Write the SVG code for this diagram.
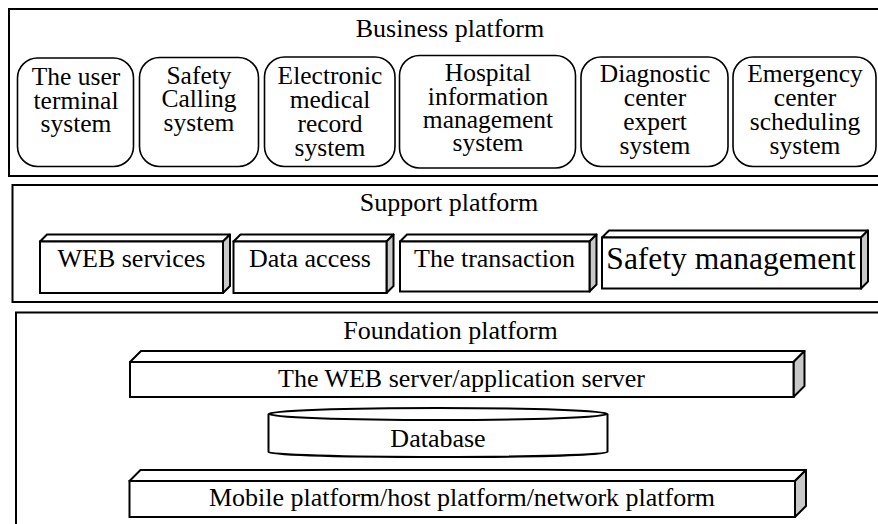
<svg xmlns="http://www.w3.org/2000/svg" width="878" height="524" viewBox="0 0 878 524">
<style>
  text { font-family: "Liberation Serif", "Times New Roman", serif; fill: #000; text-anchor: middle; }
  .t { font-size: 26px; }
  .m { font-size: 25.5px; }
  .big { font-size: 31.5px; }
  .plat { fill: #fff; stroke: #000; stroke-width: 2; }
  .rbox { fill: #fff; stroke: #000; stroke-width: 1.6; }
  .front { fill: #fff; stroke: #000; stroke-width: 2; }
  .topf { fill: #fff; stroke: #000; stroke-width: 2; stroke-linejoin: round; }
  .side { fill: #c8c8c8; stroke: #000; stroke-width: 2; stroke-linejoin: round; }
</style>
<rect width="878" height="524" fill="#fff"/>

<!-- Business platform -->
<g id="business-platform">
  <rect class="plat" x="9" y="9" width="870" height="167"/>
  <text class="t" x="450" y="37">Business platform</text>
</g>
<g id="user-terminal">
  <rect class="rbox" x="17.5" y="58" width="116" height="108.5" rx="20"/>
  <text class="m" x="76" y="85"><tspan x="76">The user</tspan><tspan x="76" dy="23.5">terminal</tspan><tspan x="76" dy="23.5">system</tspan></text>
</g>
<g id="safety-calling">
  <rect class="rbox" x="139.5" y="57.5" width="119" height="109" rx="20"/>
  <text class="m" x="199" y="83.5"><tspan x="199">Safety</tspan><tspan x="199" dy="23.5">Calling</tspan><tspan x="199" dy="23.5">system</tspan></text>
</g>
<g id="electronic-medical">
  <rect class="rbox" x="264.5" y="57" width="130.5" height="109.5" rx="20"/>
  <text class="m" x="330" y="83.5"><tspan x="330">Electronic</tspan><tspan x="330" dy="24">medical</tspan><tspan x="330" dy="24">record</tspan><tspan x="330" dy="24">system</tspan></text>
</g>
<g id="hospital-information">
  <rect class="rbox" x="399.5" y="55.5" width="176" height="112.5" rx="20"/>
  <text class="m" x="488" y="81"><tspan x="488">Hospital</tspan><tspan x="488" dy="23.5">information</tspan><tspan x="488" dy="23">management</tspan><tspan x="488" dy="23.5">system</tspan></text>
</g>
<g id="diagnostic-center">
  <rect class="rbox" x="581" y="57" width="147" height="109.5" rx="20"/>
  <text class="m" x="655" y="82"><tspan x="655">Diagnostic</tspan><tspan x="655" dy="24">center</tspan><tspan x="655" dy="24">expert</tspan><tspan x="655" dy="24">system</tspan></text>
</g>
<g id="emergency-center">
  <rect class="rbox" x="733" y="57" width="143" height="109.5" rx="20"/>
  <text class="m" x="805" y="82"><tspan x="805">Emergency</tspan><tspan x="805" dy="24">center</tspan><tspan x="805" dy="24">scheduling</tspan><tspan x="805" dy="24">system</tspan></text>
</g>

<!-- Support platform -->
<g id="support-platform">
  <rect class="plat" x="12.5" y="185" width="867" height="117"/>
  <text class="t" x="449" y="211">Support platform</text>
</g>
<g id="web-services">
  <polygon class="topf" points="40,241.5 47,234.5 230,234.5 223,241.5"/>
  <polygon class="side" points="223,241.5 230,234.5 230,286 223,293"/>
  <rect class="front" x="40" y="241.5" width="183" height="51.5"/>
  <text class="t" x="131.5" y="266.5">WEB services</text>
</g>
<g id="data-access">
  <polygon class="topf" points="233.5,241.5 240.5,234.5 393.5,234.5 386.5,241.5"/>
  <polygon class="side" points="386.5,241.5 393.5,234.5 393.5,286 386.5,293"/>
  <rect class="front" x="233.5" y="241.5" width="153" height="51.5"/>
  <text class="t" x="310" y="266.5">Data access</text>
</g>
<g id="the-transaction">
  <polygon class="topf" points="400,241.5 407,234.5 596.5,234.5 589.5,241.5"/>
  <polygon class="side" points="589.5,241.5 596.5,234.5 596.5,284.5 589.5,291.5"/>
  <rect class="front" x="400" y="241.5" width="189.5" height="50"/>
  <text class="t" x="494.5" y="266.5">The transaction</text>
</g>
<g id="safety-management">
  <polygon class="topf" points="602,237.5 609,230.5 868,230.5 861,237.5"/>
  <polygon class="side" points="861,237.5 868,230.5 868,281.5 861,288.5"/>
  <rect class="front" x="602" y="237.5" width="259" height="51"/>
  <text class="big" x="731" y="268.5">Safety management</text>
</g>

<!-- Foundation platform -->
<g id="foundation-platform">
  <rect class="plat" x="16" y="312.5" width="864" height="220"/>
  <text class="t" x="450.5" y="338.5">Foundation platform</text>
</g>
<g id="web-server">
  <polygon class="topf" points="130,362 141,351 804.5,351 793.5,362"/>
  <polygon class="side" points="793.5,362 804.5,351 804.5,386 793.5,397"/>
  <rect class="front" x="130" y="362" width="663.5" height="35"/>
  <text class="t" x="461.5" y="387">The WEB server/application server</text>
</g>
<g id="database">
  <path class="front" d="M268.5,414 L268.5,452 A169.5,5 0 0 0 607.5,452 L607.5,414"/>
  <ellipse class="front" cx="438" cy="414" rx="169.5" ry="6"/>
  <text class="t" x="438" y="447">Database</text>
</g>
<g id="mobile-platform">
  <polygon class="topf" points="129.5,481 140.5,470 806,470 795,481"/>
  <polygon class="side" points="795,481 806,470 806,506 795,517"/>
  <rect class="front" x="129.5" y="481" width="665.5" height="36"/>
  <text class="t" x="462" y="505.5">Mobile platform/host platform/network platform</text>
</g>

<g id="connectors"></g>
</svg>
